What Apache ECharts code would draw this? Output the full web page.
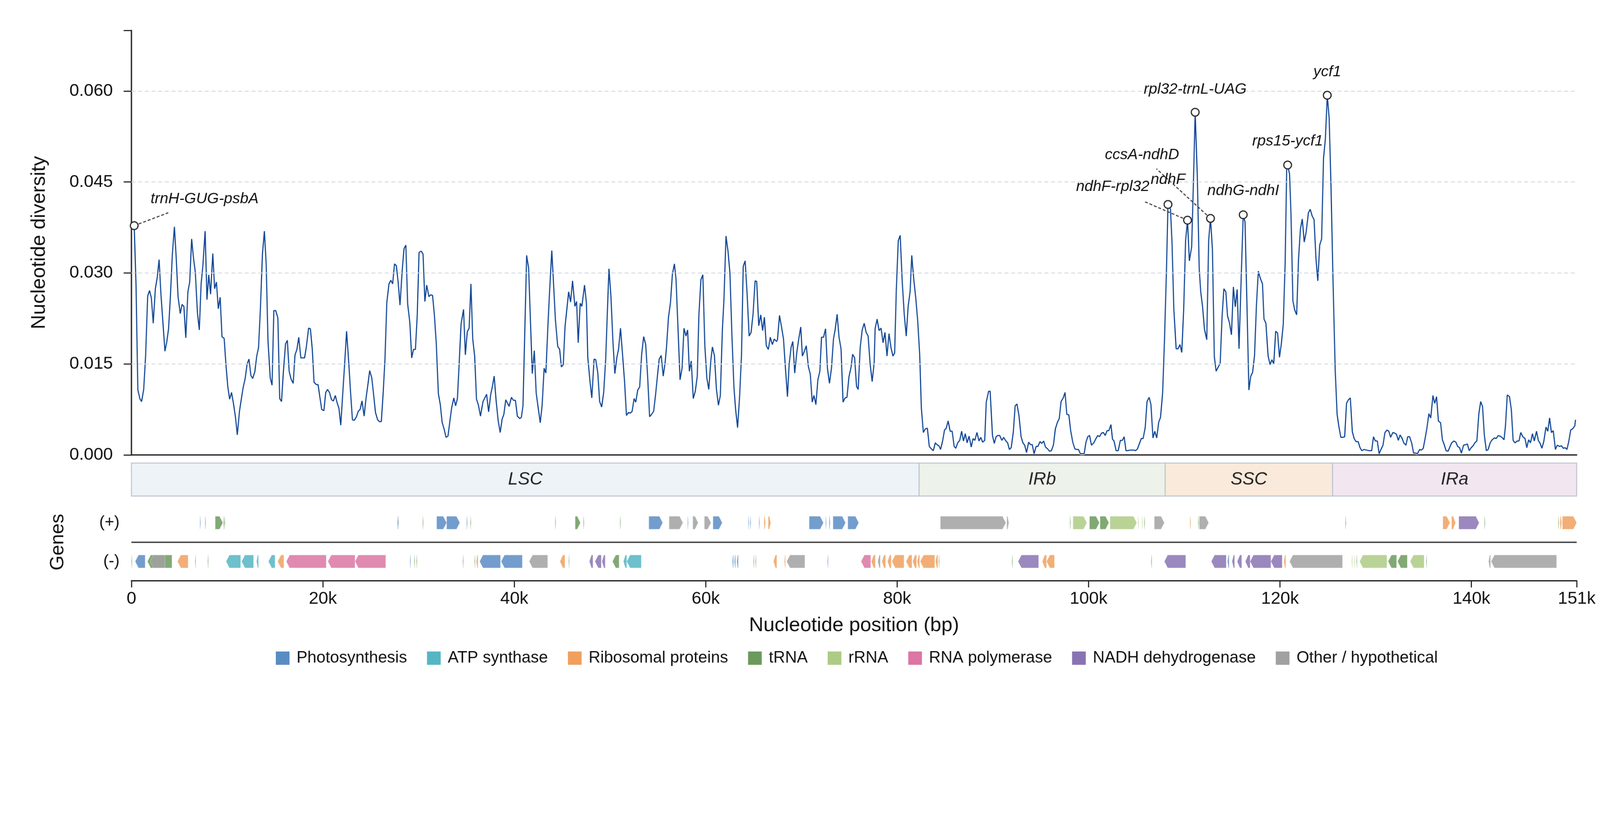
<!DOCTYPE html>
<html>
<head>
<meta charset="utf-8">
<script src="https://cdn.jsdelivr.net/npm/echarts@6/dist/echarts.min.js"></script>
<style>html,body{margin:0;padding:0;background:#fff;overflow:hidden}#chart{width:4322px;height:2102px;transform-origin:0 0}</style>
</head>
<body>
<div id="chart"></div>
<script>
// ---------------- DATA ----------------
const nucPos = [290,480,670,900,1060,1280,1480,1700,1890,2080,2280,2500,2690,2890,3080,3270,3500,3690,3880,4070,4270,4490,4680,4870,5100,5290,5480,5680,5900,6090,6290,6480,6670,6900,7090,7280,7470,7700,7890,8080,8270,8500,8690,8880,9080,9270,9460,9690,9880,10070,10260,10460,10680,10870,11060,11290,11480,11670,11870,12090,12280,12480,12670,12890,13090,13280,13470,13690,13890,14080,14270,14500,14690,14880,15070,15300,15490,15680,15880,16100,16290,16480,16680,16900,17090,17290,17480,17700,17900,18090,18280,18510,18700,18890,19080,19310,19500,19690,19880,20110,20300,20490,20690,20910,21100,21300,21490,21680,21870,22100,22290,22480,22700,22900,23090,23280,23510,23700,23890,24090,24310,24500,24700,24890,25110,25300,25500,25720,25910,26110,26300,26490,26680,26910,27100,27290,27490,27680,27870,28060,28290,28480,28670,28860,29090,29280,29470,29670,29860,30050,30280,30470,30660,30850,31080,31270,31460,31650,31850,32070,32270,32460,32680,32870,33070,33260,33450,33680,33870,34060,34250,34440,34700,34890,35090,35280,35470,35660,35860,36050,36240,36470,36730,37110,37320,37530,37700,37900,38110,38320,38530,38730,38910,39110,39460,39700,39910,40120,40320,40570,40740,40910,41290,41500,41880,42090,42290,42710,42910,43120,43300,43500,43670,43920,44300,44540,44740,44920,45120,45300,45680,45880,46090,46330,46510,46680,46890,47060,47340,47540,47680,47890,48100,48340,48510,48720,48920,49130,49340,49550,49890,50100,50300,50510,50720,50890,51100,51310,51520,51720,51930,52140,52310,52520,52690,52900,53100,53310,53520,53730,53930,54140,54350,54560,54760,54970,55140,55350,55560,55760,55900,56110,56320,56520,56730,56900,57110,57320,57530,57730,57940,58110,58290,58490,58700,58910,59120,59290,59500,59700,59910,60120,60320,60530,60700,60910,61120,61330,61530,61740,61910,62120,62330,62530,62740,62950,63120,63330,63540,63740,63920,64120,64330,64540,64740,64950,65160,65330,65540,65750,65950,66130,66330,66540,66750,66960,67160,67400,67500,67710,67920,68130,68340,68540,68720,68930,69100,69300,69510,69720,69930,70100,70310,70510,70720,70930,71130,71310,71510,71720,71930,72100,72310,72520,72720,72930,73140,73350,73520,73730,73930,74140,74350,74560,74760,74970,75180,75350,75560,75760,75930,76140,76350,76560,76760,76970,77180,77390,77600,77700,77910,78110,78320,78530,78730,78940,79150,79360,79560,79740,79910,80120,80320,80530,80740,80950,81150,81360,81530,81740,81950,82150,82360,82530,82740,82950,83160,83360,83570,83780,83990,84160,84370,84540,84750,84950,85130,85330,85540,85750,85960,86130,86330,86540,86740,86930,87120,87310,87520,87740,87930,88120,88340,88550,88740,88930,89150,89310,89560,89720,89960,90150,90340,90510,90720,90940,91130,91320,91540,91730,91920,92140,92330,92520,92730,92950,93140,93330,93520,93740,93930,94120,94310,94520,94710,94930,95120,95310,95500,95720,95930,96120,96340,96530,96750,96940,97130,97350,97540,97730,97940,98130,98350,98570,98760,98950,99140,99350,99540,99730,99920,100110,100300,100550,100740,100960,101140,101360,101550,101740,101930,102120,102340,102500,102660,102880,103100,103320,103530,103720,103910,104100,104320,104540,104730,104920,105110,105320,105510,105700,105920,106110,106330,106520,106730,106920,107120,107330,107520,107740,107930,108150,108300,108560,108720,108910,109150,109350,109550,109740,109940,110140,110340,110530,110770,110970,111140,111360,111560,111720,111910,112110,112350,112550,112740,112940,113140,113330,113550,113750,113950,114140,114340,114520,114720,114930,115130,115330,115530,115720,115960,116160,116350,116550,116750,116950,117140,117340,117540,117740,117930,118170,118330,118530,118760,118960,119160,119350,119550,119750,119950,120140,120340,120540,120700,120800,121000,121150,121350,121540,121740,121940,122140,122330,122530,122730,122970,123160,123360,123560,123760,123950,124150,124350,124550,124740,124940,125140,125330,125530,125770,125970,126160,126360,126560,126760,126950,127150,127350,127560,127750,127940,128170,128360,128550,128780,129030,129310,129580,129770,129960,130170,130360,130550,130760,130970,131180,131370,131560,131790,131980,132170,132360,132550,132740,132930,133160,133350,133540,133770,133960,134170,134360,134590,134780,134970,135160,135350,135560,135750,135980,136170,136360,136550,136780,136970,137160,137350,137560,137750,137940,138170,138380,138570,138760,138950,139180,139410,139580,139770,139980,140170,140360,140570,140780,140970,141160,141350,141560,141750,141960,142170,142400,142590,142800,142990,143180,143410,143560,143750,143980,144170,144360,144550,144780,144970,145160,145370,145600,145790,145980,146170,146380,146570,146800,146990,147180,147370,147560,147790,147980,148170,148360,148550,148780,148970,149200,149410,149600,149790,149980,150170,150380,150570,150800,150880];

const piValues = [0.0378,0.0279,0.0107,0.0092,0.0088,0.0108,0.0163,0.0262,0.0271,0.0259,0.0217,0.0274,0.0292,0.0322,0.0266,0.0223,0.0171,0.0186,0.0208,0.0261,0.0330,0.0376,0.0325,0.0261,0.0233,0.0248,0.0245,0.0193,0.0269,0.0285,0.0356,0.0325,0.0302,0.0234,0.0206,0.0282,0.0313,0.0369,0.0256,0.0297,0.0265,0.0332,0.0274,0.0285,0.0241,0.0260,0.0195,0.0192,0.0148,0.0112,0.0092,0.0103,0.0083,0.0062,0.0033,0.0072,0.0092,0.0111,0.0125,0.0150,0.0158,0.0131,0.0126,0.0137,0.0163,0.0177,0.0239,0.0332,0.0369,0.0314,0.0188,0.0127,0.0115,0.0238,0.0238,0.0226,0.0093,0.0088,0.0138,0.0183,0.0189,0.0138,0.0125,0.0118,0.0165,0.0174,0.0194,0.0160,0.0160,0.0160,0.0179,0.0209,0.0208,0.0175,0.0120,0.0116,0.0116,0.0095,0.0075,0.0073,0.0103,0.0108,0.0103,0.0091,0.0089,0.0098,0.0086,0.0077,0.0049,0.0107,0.0153,0.0204,0.0153,0.0102,0.0058,0.0057,0.0063,0.0072,0.0075,0.0089,0.0064,0.0092,0.0115,0.0139,0.0127,0.0100,0.0070,0.0058,0.0055,0.0055,0.0102,0.0158,0.0251,0.0282,0.0288,0.0282,0.0315,0.0312,0.0284,0.0247,0.0304,0.0340,0.0346,0.0249,0.0218,0.0160,0.0174,0.0174,0.0229,0.0334,0.0336,0.0331,0.0253,0.0280,0.0261,0.0264,0.0263,0.0231,0.0184,0.0101,0.0083,0.0054,0.0042,0.0029,0.0031,0.0054,0.0077,0.0094,0.0081,0.0093,0.0153,0.0216,0.0240,0.0165,0.0203,0.0209,0.0282,0.0191,0.0163,0.0092,0.0083,0.0064,0.0088,0.0100,0.0071,0.0099,0.0112,0.0130,0.0088,0.0056,0.0037,0.0059,0.0067,0.0091,0.0080,0.0095,0.0090,0.0090,0.0064,0.0060,0.0062,0.0081,0.0329,0.0308,0.0134,0.0172,0.0102,0.0053,0.0082,0.0143,0.0135,0.0208,0.0264,0.0337,0.0222,0.0179,0.0174,0.0145,0.0149,0.0211,0.0269,0.0252,0.0287,0.0245,0.0253,0.0185,0.0250,0.0245,0.0280,0.0250,0.0161,0.0124,0.0094,0.0158,0.0157,0.0136,0.0088,0.0079,0.0103,0.0158,0.0307,0.0261,0.0189,0.0134,0.0161,0.0174,0.0209,0.0166,0.0121,0.0065,0.0070,0.0069,0.0072,0.0093,0.0087,0.0107,0.0112,0.0166,0.0195,0.0182,0.0130,0.0063,0.0067,0.0072,0.0099,0.0132,0.0158,0.0164,0.0130,0.0152,0.0177,0.0227,0.0251,0.0298,0.0315,0.0289,0.0208,0.0124,0.0143,0.0209,0.0196,0.0206,0.0138,0.0155,0.0093,0.0105,0.0130,0.0231,0.0289,0.0297,0.0180,0.0127,0.0108,0.0155,0.0178,0.0164,0.0108,0.0082,0.0098,0.0206,0.0258,0.0361,0.0336,0.0300,0.0196,0.0112,0.0076,0.0045,0.0096,0.0164,0.0311,0.0320,0.0264,0.0196,0.0202,0.0233,0.0287,0.0286,0.0213,0.0231,0.0205,0.0227,0.0180,0.0174,0.0194,0.0182,0.0191,0.0187,0.0190,0.0230,0.0211,0.0191,0.0141,0.0096,0.0150,0.0178,0.0187,0.0135,0.0168,0.0191,0.0211,0.0163,0.0171,0.0180,0.0146,0.0133,0.0087,0.0098,0.0083,0.0124,0.0138,0.0194,0.0194,0.0208,0.0143,0.0118,0.0143,0.0191,0.0206,0.0232,0.0194,0.0175,0.0087,0.0094,0.0095,0.0129,0.0144,0.0166,0.0160,0.0113,0.0108,0.0177,0.0206,0.0217,0.0202,0.0196,0.0150,0.0121,0.0152,0.0208,0.0224,0.0205,0.0209,0.0185,0.0202,0.0163,0.0200,0.0177,0.0163,0.0168,0.0270,0.0353,0.0362,0.0286,0.0233,0.0196,0.0245,0.0270,0.0329,0.0289,0.0258,0.0221,0.0165,0.0077,0.0037,0.0043,0.0044,0.0014,0.0010,0.0007,0.0020,0.0017,0.0015,0.0009,0.0023,0.0041,0.0044,0.0056,0.0039,0.0039,0.0014,0.0011,0.0020,0.0024,0.0039,0.0023,0.0035,0.0020,0.0031,0.0013,0.0027,0.0024,0.0037,0.0023,0.0029,0.0021,0.0024,0.0087,0.0105,0.0105,0.0032,0.0019,0.0030,0.0032,0.0032,0.0024,0.0029,0.0024,0.0020,0.0009,0.0012,0.0038,0.0081,0.0084,0.0065,0.0030,0.0020,0.0016,0.0004,0.0021,0.0017,0.0017,0.0002,0.0014,0.0014,0.0022,0.0019,0.0023,0.0013,0.0010,0.0006,0.0007,0.0017,0.0043,0.0054,0.0060,0.0088,0.0094,0.0103,0.0067,0.0066,0.0040,0.0021,0.0010,0.0009,0.0009,0.0002,0.0002,0.0002,0.0021,0.0030,0.0032,0.0016,0.0020,0.0026,0.0032,0.0030,0.0036,0.0037,0.0032,0.0040,0.0040,0.0050,0.0026,0.0023,0.0007,0.0007,0.0024,0.0024,0.0030,0.0007,0.0007,0.0008,0.0008,0.0008,0.0007,0.0010,0.0019,0.0027,0.0027,0.0045,0.0088,0.0095,0.0083,0.0028,0.0039,0.0028,0.0054,0.0062,0.0103,0.0188,0.0310,0.0413,0.0405,0.0350,0.0241,0.0175,0.0175,0.0182,0.0169,0.0241,0.0354,0.0387,0.0320,0.0343,0.0457,0.0565,0.0461,0.0307,0.0269,0.0245,0.0207,0.0190,0.0354,0.0390,0.0339,0.0162,0.0138,0.0145,0.0151,0.0228,0.0274,0.0269,0.0229,0.0218,0.0198,0.0277,0.0244,0.0273,0.0175,0.0299,0.0396,0.0384,0.0247,0.0107,0.0130,0.0136,0.0164,0.0247,0.0303,0.0292,0.0282,0.0224,0.0217,0.0163,0.0149,0.0157,0.0150,0.0204,0.0201,0.0161,0.0183,0.0215,0.0316,0.0470,0.0478,0.0463,0.0397,0.0254,0.0239,0.0231,0.0324,0.0373,0.0389,0.0351,0.0367,0.0399,0.0405,0.0394,0.0388,0.0324,0.0287,0.0346,0.0356,0.0489,0.0521,0.0593,0.0555,0.0444,0.0294,0.0140,0.0067,0.0046,0.0029,0.0029,0.0030,0.0085,0.0091,0.0094,0.0038,0.0027,0.0022,0.0022,0.0012,0.0007,0.0009,0.0008,0.0007,0.0007,0.0030,0.0023,0.0023,0.0002,0.0009,0.0016,0.0037,0.0041,0.0039,0.0029,0.0037,0.0036,0.0034,0.0024,0.0033,0.0028,0.0020,0.0016,0.0030,0.0030,0.0019,0.0003,0.0003,0.0002,0.0009,0.0008,0.0011,0.0027,0.0044,0.0068,0.0061,0.0098,0.0085,0.0096,0.0056,0.0053,0.0025,0.0017,0.0007,0.0006,0.0013,0.0020,0.0023,0.0021,0.0014,0.0012,0.0003,0.0016,0.0017,0.0018,0.0007,0.0012,0.0015,0.0020,0.0023,0.0068,0.0088,0.0080,0.0033,0.0007,0.0009,0.0020,0.0025,0.0028,0.0027,0.0032,0.0031,0.0029,0.0025,0.0048,0.0099,0.0096,0.0075,0.0024,0.0020,0.0023,0.0023,0.0037,0.0030,0.0027,0.0012,0.0025,0.0020,0.0035,0.0023,0.0039,0.0024,0.0019,0.0011,0.0022,0.0046,0.0039,0.0061,0.0037,0.0040,0.0009,0.0016,0.0014,0.0015,0.0011,0.0012,0.0009,0.0022,0.0041,0.0043,0.0048,0.0058];

const peakLabels = ['trnH-GUG-psbA','ndhF','ndhF-rpl32','rpl32-trnL-UAG','ccsA-ndhD','ndhG-ndhI','rps15-ycf1','ycf1'];
const peakPos    = [290,108300,110340,111140,112740,116160,120800,124940];
const peakVal    = [0.0378,0.0413,0.0387,0.0565,0.0390,0.0396,0.0478,0.0593];

const yTickValues = [0.015,0.030,0.045,0.060];

const regionNames = ['LSC','IRb','SSC','IRa'];
const regionStart = [0,82300,108000,125500];
const regionEnd   = [82300,108000,125500,151000];

const categoryNames = ['Photosynthesis','ATP synthase','Ribosomal proteins','tRNA','rRNA','RNA polymerase','NADH dehydrogenase','Other / hypothetical'];

// genes: start, end, strand (1 = +, 0 = -), category index
const geneStart = [7160,7700,8750,9620,9720,27800,27870,30440,31890,32930,35030,35420,44280,46360,47230,51050,54060,56170,58110,58650,59860,60760,64460,64660,65570,66100,66530,70810,72540,72900,73300,74850,84520,91460,98060,98370,100100,101200,102250,105190,105600,105830,106870,110590,111450,111570,126850,137020,137930,138680,141370,149080,149270,149500,
  0,390,1670,4810,6660,7970,9890,11510,13070,14310,15280,16180,20530,23360,29100,29540,29780,34620,35850,36030,36380,38630,41560,44770,45680,47840,48430,49160,50260,51400,51750,62780,63000,63250,64990,65200,67080,68220,68460,72720,76230,77300,77980,78410,79000,79450,80930,81620,82100,82410,84000,84350,92000,92640,95160,95610,106540,107920,112820,114520,114990,115530,116380,116880,119050,120400,121000,127500,127760,127990,128320,131300,132280,133600,135270,141790,142060,1950];
const geneEnd = [7230,7770,9550,9680,9780,27850,27930,30500,32930,34310,35110,35480,44330,46910,47290,51130,55510,57620,58180,59210,60550,61730,64520,64720,65630,66250,66800,72300,72600,73000,74610,75990,91360,91670,98120,99820,101130,102120,105040,105240,105650,105880,107920,110690,111510,112550,126900,137760,138340,140810,141430,149140,149440,151000,
  60,1430,4230,5920,6720,8030,11410,12760,13270,15000,15930,20350,23360,26570,29170,29600,29840,34680,35910,36210,38560,40840,43490,45290,45740,48220,49090,49500,50950,51750,53270,62900,63120,63400,65050,65260,67430,68330,70360,72800,77240,77720,78240,78790,79380,80720,81550,82030,82350,83930,84250,84410,92060,94780,95610,96440,106600,110150,114380,114680,115260,116000,116880,119050,120230,120600,126530,127560,127820,128050,131170,132180,133300,135060,135330,142000,148900,3500];
const geneStrand = [1,1,1,1,1,1,1,1,1,1,1,1,1,1,1,1,1,1,1,1,1,1,1,1,1,1,1,1,1,1,1,1,1,1,1,1,1,1,1,1,1,1,1,1,1,1,1,1,1,1,1,1,1,1,
  0,0,0,0,0,0,0,0,0,0,0,0,0,0,0,0,0,0,0,0,0,0,0,0,0,0,0,0,0,0,0,0,0,0,0,0,0,0,0,0,0,0,0,0,0,0,0,0,0,0,0,0,0,0,0,0,0,0,0,0,0,0,0,0,0,0,0,0,0,0,0,0,0,0,0,0,0,0];
const geneCategory = [0,0,3,3,3,3,0,3,0,0,0,3,3,3,3,3,0,7,0,7,7,0,0,0,0,2,2,0,0,0,0,0,7,7,3,4,3,3,4,4,4,3,7,2,3,7,3,2,2,6,3,3,2,2,
  3,0,3,2,3,3,1,1,1,1,2,5,5,5,0,3,3,3,3,2,0,0,7,2,3,6,6,6,3,1,1,0,0,0,3,3,2,2,7,0,5,2,7,2,2,2,2,2,2,2,2,3,3,6,2,2,3,6,6,0,6,6,6,6,6,2,7,4,4,3,4,3,3,4,3,7,7,7];

// ---------------- STYLE ----------------
const FONT = '"Liberation Sans", Arial, sans-serif';
const categoryColors = ['#5a8cc4','#55b5c4','#f0a05e','#6b9a5c','#adcb85','#dc76a3','#8a73b3','#a1a1a1'];
const regionColors = ['#eef3f7','#edf2ea','#f9eadb','#f2e7f1'];
// label centre offsets (px) from the marker
const labelOffsets = {
  'trnH-GUG-psbA':[190,-72], 'ndhF':[0,-67], 'ndhF-rpl32':[-202,-90], 'rpl32-trnL-UAG':[0,-62],
  'ccsA-ndhD':[-185,-171], 'ndhG-ndhI':[0,-65], 'rps15-ycf1':[0,-64], 'ycf1':[0,-63]
};
// far end (px) of the dashed leader lines, relative to the marker
const leaderEnds = {'trnH-GUG-psbA':[92,-35], 'ndhF-rpl32':[-118,-51], 'ccsA-ndhD':[-146,-134]};
const X_MAX = 151000;

// fit the 4322x2102 design to the actual viewport
const el = document.getElementById('chart');
const vw = window.innerWidth || document.documentElement.clientWidth || 4322;
const vh = window.innerHeight || document.documentElement.clientHeight || 2102;
const fit = Math.min(vw / 4322, vh / 2102);
if (Math.abs(fit - 1) > 0.002) el.style.transform = 'scale(' + fit + ')';

const chart = echarts.init(el, null, {renderer:'canvas'});

const gridBase = {left:355, right:63, outerBoundsMode:'none', containLabel:false};

const geneSeries = categoryNames.map((name, ci) => {
  const data = [];
  for (let i = 0; i < geneStart.length; i++) {
    if (geneCategory[i] === ci) data.push([geneStart[i], geneEnd[i], geneStrand[i]]);
  }
  return {
    type:'custom', name, xAxisIndex:2, yAxisIndex:2, z:3,
    itemStyle:{color:categoryColors[ci]},
    data,
    renderItem:(params, api) => {
      const s = api.value(0), e = api.value(1), st = api.value(2);
      const a = api.coord([s, st]), b = api.coord([e, st]);
      let x0 = a[0], x1 = b[0];
      if (x1 - x0 < 2) { const c = (x0 + x1) / 2; x0 = c - 1; x1 = c + 1; }
      const y = a[1], h = 35, w = x1 - x0;
      const head = Math.min(9, w * 0.6);
      let pts;
      if (st === 1) {
        pts = [[x0,y-h/2],[x1-head,y-h/2],[x1,y],[x1-head,y+h/2],[x0,y+h/2]];
      } else {
        pts = [[x1,y-h/2],[x0+head,y-h/2],[x0,y],[x0+head,y+h/2],[x1,y+h/2]];
      }
      return {type:'polygon', shape:{points:pts},
        style:{fill:categoryColors[ci], opacity:0.85, stroke:'rgba(255,255,255,0.55)', lineWidth:1}};
    }
  };
});

const lineData = nucPos.map((p,i) => [p, piValues[i]]);
const leaderIdx = peakLabels.map((n,i) => i).filter(i => leaderEnds[peakLabels[i]]);

const option = {
  animation:false,
  backgroundColor:'#ffffff',
  textStyle:{fontFamily:FONT},
  grid:[
    Object.assign({top:82, height:1147}, gridBase),
    Object.assign({top:1251, height:89}, gridBase),
    Object.assign({top:1360, height:209}, gridBase)
  ],
  xAxis:[
    {type:'value', gridIndex:0, min:0, max:X_MAX, axisLine:{show:true, onZero:false, lineStyle:{color:'#222', width:3.5}},
      axisTick:{show:false}, axisLabel:{show:false}, splitLine:{show:false}},
    {type:'value', gridIndex:1, min:0, max:X_MAX, show:false},
    {type:'value', gridIndex:2, min:0, max:X_MAX, interval:20000,
      axisLine:{show:true, onZero:false, lineStyle:{color:'#222', width:3.5}},
      axisTick:{show:true, length:18, lineStyle:{color:'#222', width:3}},
      axisLabel:{show:true, fontSize:47, color:'#111', margin:26, fontFamily:FONT, showMaxLabel:true, showMinLabel:true,
        formatter:v => v === 0 ? '0' : Math.round(v/1000) + 'k'},
      splitLine:{show:false},
      name:'Nucleotide position (bp)', nameLocation:'middle', nameGap:94,
      nameTextStyle:{fontSize:54, color:'#111', fontFamily:FONT}}
  ],
  yAxis:[
    {type:'value', gridIndex:0, min:0, max:0.07, interval:0.015,
      axisLine:{show:true, lineStyle:{color:'#222', width:3.5}},
      axisTick:{show:true, length:21, lineStyle:{color:'#222', width:3}},
      axisLabel:{fontSize:47, color:'#111', margin:50, fontFamily:FONT,
        formatter:v => v > 0.0651 ? '' : v.toFixed(3)},
      splitLine:{show:false},
      name:'Nucleotide diversity', nameLocation:'middle', nameRotate:90, nameGap:222,
      nameTextStyle:{fontSize:54, color:'#111', fontFamily:FONT}},
    {type:'value', gridIndex:1, min:0, max:1, show:false},
    {type:'value', gridIndex:2, min:-0.5, max:1.5, interval:0.5,
      axisLine:{show:false}, axisTick:{show:false}, splitLine:{show:false},
      axisLabel:{fontSize:44, color:'#111', margin:32, fontFamily:FONT,
        formatter:v => Math.abs(v-1) < 1e-6 ? '(+)' : (Math.abs(v) < 1e-6 ? '(-)' : '')},
      name:'Genes', nameLocation:'middle', nameRotate:90, nameGap:172,
      nameTextStyle:{fontSize:52, color:'#111', fontFamily:FONT}}
  ],
  legend:{
    data:categoryNames, top:1751, left:740, icon:'rect', itemWidth:37, itemHeight:36, itemGap:54,
    textStyle:{fontSize:44, color:'#111', fontFamily:FONT, padding:[0,0,0,14]},
    selectedMode:false
  },
  series:[
    // dashed grid lines
    {type:'line', xAxisIndex:0, yAxisIndex:0, data:[], z:1, silent:true,
      markLine:{silent:true, precision:6, symbol:['none','none'], label:{show:false}, animation:false,
        lineStyle:{color:'#d5dbe2', type:[11,7], width:2.5},
        data:yTickValues.map(v => ({yAxis:v}))}},
    // white halo under the diversity line
    {type:'line', xAxisIndex:0, yAxisIndex:0, z:2, showSymbol:false, symbol:'none', silent:true,
      lineStyle:{color:'#ffffff', width:6.5}, data:lineData},
    // nucleotide diversity
    {type:'line', name:'Pi', xAxisIndex:0, yAxisIndex:0, z:3, showSymbol:false, symbol:'none',
      lineStyle:{color:'#0f4595', width:3}, data:lineData},
    // dashed leader lines from peaks to displaced labels
    {type:'custom', xAxisIndex:0, yAxisIndex:0, z:4, silent:true,
      data:leaderIdx.map(i => [peakPos[i], peakVal[i], i]),
      renderItem:(params, api) => {
        const p = api.coord([api.value(0), api.value(1)]);
        const off = leaderEnds[peakLabels[api.value(2)]];
        return {type:'line', shape:{x1:p[0], y1:p[1], x2:p[0]+off[0], y2:p[1]+off[1]},
          style:{stroke:'#444', lineWidth:3, lineDash:[8,5]}};
      }},
    // annotated peaks
    {type:'scatter', xAxisIndex:0, yAxisIndex:0, z:5, symbol:'circle', symbolSize:21,
      itemStyle:{color:'#ffffff', borderColor:'#222', borderWidth:3, opacity:1},
      label:{show:true, position:'inside', formatter:'{b}', fontSize:41, fontStyle:'italic', color:'#111', fontFamily:FONT},
      labelLayout:(p) => { const o = labelOffsets[peakLabels[p.dataIndex]]; return {dx:o[0], dy:o[1]}; },
      labelLine:{show:false},
      data:peakLabels.map((n,i) => ({name:n, value:[peakPos[i], peakVal[i]]}))},
    // regions
    {type:'custom', xAxisIndex:1, yAxisIndex:1, z:2, silent:true,
      data:regionNames.map((n,i) => [regionStart[i], regionEnd[i], i]),
      renderItem:(params, api) => {
        const i = api.value(2);
        const p0 = api.coord([api.value(0), 1]);
        const p1 = api.coord([api.value(1), 0]);
        return {type:'group', children:[
          {type:'rect', shape:{x:p0[0], y:p0[1], width:p1[0]-p0[0], height:p1[1]-p0[1]},
            style:{fill:regionColors[i], stroke:'#b9c2cc', lineWidth:2.5}},
          {type:'text', style:{text:regionNames[i], x:(p0[0]+p1[0])/2, y:(p0[1]+p1[1])/2,
            align:'center', verticalAlign:'middle', fontSize:48, fontStyle:'italic', fontFamily:FONT, fill:'#222'}}
        ]};
      }},
    // separator line between strands
    {type:'line', xAxisIndex:2, yAxisIndex:2, data:[], z:2, silent:true,
      markLine:{silent:true, precision:6, symbol:['none','none'], label:{show:false}, animation:false,
        lineStyle:{color:'#333', type:'solid', width:3.5}, data:[{yAxis:0.5}]}}
  ].concat(geneSeries)
};

chart.setOption(option);
</script>
</body>
</html>
